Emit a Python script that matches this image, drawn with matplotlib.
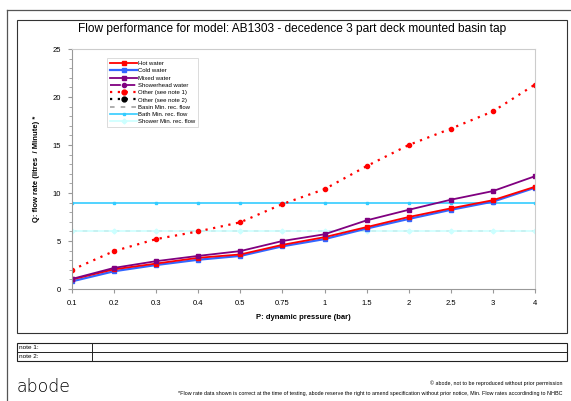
import matplotlib
matplotlib.use("Agg")
import matplotlib.pyplot as plt
from matplotlib.patches import Rectangle
from matplotlib.lines import Line2D
from matplotlib.ticker import MultipleLocator

# data
pressures = ["0.1", "0.2", "0.3", "0.4", "0.5", "0.75", "1", "1.5", "2", "2.5", "3", "4"]
hot_water = [1.0, 2.05, 2.65, 3.25, 3.6, 4.6, 5.4, 6.45, 7.5, 8.4, 9.25, 10.65]
cold_water = [0.8, 1.85, 2.5, 3.05, 3.45, 4.45, 5.2, 6.3, 7.3, 8.25, 9.1, 10.55]
mixed_water = [1.05, 2.2, 2.9, 3.45, 3.95, 5.0, 5.7, 7.15, 8.25, 9.3, 10.2, 11.75]
other_1 = [2.0, 3.95, 5.2, 6.0, 6.95, 8.85, 10.4, 12.8, 15.0, 16.7, 18.5, 21.3]
basin_min = 6.0
bath_min = 9.0
shower_min = 6.0

title = "Flow performance for model: AB1303 - decedence 3 part deck mounted basin tap"

W, H = 571, 401
fig = plt.figure(figsize=(W / 100, H / 100), dpi=100)
plt.rcParams['font.family'] = ['Liberation Sans', 'DejaVu Sans']

def fx(px):
    return px / W

def fy(py):
    return 1 - py / H

# outer frames
fig.add_artist(Line2D([fx(7), fx(7)], [fy(10), 0], color="#555555", lw=0.9, transform=fig.transFigure))
fig.add_artist(Line2D([fx(7), 1], [fy(10), fy(10)], color="#555555", lw=0.9, transform=fig.transFigure))
fig.add_artist(Rectangle((fx(17), fy(333)), fx(567) - fx(17), fy(20) - fy(333),
                         fill=False, ec="#333333", lw=0.8, transform=fig.transFigure))

fig.text(fx(292), fy(29), title, ha="center", va="center", fontsize=8.6)

ax = fig.add_axes([fx(72), fy(289), fx(535) - fx(72), fy(49) - fy(289)])
x = list(range(len(pressures)))

ax.plot(x, [basin_min] * len(x), color="#999999", ls=(0, (3, 4)), lw=1.1, label="Basin Min. rec. flow")
ax.plot(x, [shower_min] * len(x), color="#CCFFFF", lw=1.2, marker="D", ms=2.5, label="Shower Min. rec. flow")
ax.plot(x, [bath_min] * len(x), color="#33CCFF", lw=1.2, marker="s", ms=1.5, label="Bath Min. rec. flow")
ax.plot(x, cold_water, color="#3366FF", lw=1.6, marker="s", ms=2.8, label="Cold water")
ax.plot(x, hot_water, color="#FF0000", lw=1.3, marker="s", ms=2.8, label="Hot water")
ax.plot(x, mixed_water, color="#800080", lw=1.3, marker="s", ms=2.8, label="Mixed water")
ax.plot(x, other_1, color="#FF0000", lw=1.6, ls=(0, (1, 2.5)), marker="o", ms=3, label="Other (see note 1)")

ax.set_xlim(0, len(x) - 1)
ax.set_ylim(0, 25)
ax.set_xticks(x)
ax.set_xticklabels(pressures)
ax.yaxis.set_major_locator(MultipleLocator(5))
ax.yaxis.set_minor_locator(MultipleLocator(1))
ax.tick_params(axis="both", labelsize=5.5, length=3, color="#999999", pad=5)
ax.tick_params(axis="y", which="minor", length=2, color="#999999")
for s in ["left", "bottom"]:
    ax.spines[s].set_color("#999999")
for s in ["top", "right"]:
    ax.spines[s].set_color("#CCCCCC")
ax.set_xlabel("P: dynamic pressure (bar)", fontsize=5.5, fontweight="bold", labelpad=5)
ax.set_ylabel("Q: flow rate (litres  / Minute) *", fontsize=5.5, fontweight="bold", labelpad=9)

handles = [
    Line2D([], [], color="#FF0000", lw=1.3, marker="s", ms=3),
    Line2D([], [], color="#3366FF", lw=1.6, marker="s", ms=3),
    Line2D([], [], color="#800080", lw=1.3, marker="s", ms=3),
    Line2D([], [], color="#800080", lw=1.3, ls=(0, (6, 2)), marker="o", ms=3),
    Line2D([], [], color="#FF0000", lw=1.6, ls=(0, (1, 2.5)), marker="o", ms=3.5),
    Line2D([], [], color="black", lw=1.6, ls=(0, (1, 2.5)), marker="o", ms=3.5),
    Line2D([], [], color="#999999", lw=1.1, ls=(0, (3, 4))),
    Line2D([], [], color="#33CCFF", lw=1.2, marker="s", ms=1.5),
    Line2D([], [], color="#CCFFFF", lw=1.2, marker="D", ms=2.5),
]
labels = ["Hot water", "Cold water", "Mixed water", "Showerhead water", "Other (see note 1)",
          "Other (see note 2)", "Basin Min. rec. flow", "Bath Min. rec. flow", "Shower Min. rec. flow"]
leg = ax.legend(handles, labels, loc="upper left", bbox_to_anchor=(0.07, 0.975), fontsize=4.3,
                frameon=True, fancybox=False, edgecolor="#CCCCCC", handlelength=4.5,
                handletextpad=0.1, labelspacing=0.35, borderpad=0.5)
leg.get_frame().set_linewidth(0.6)

# notes table
fig.add_artist(Rectangle((fx(17), fy(361)), fx(567) - fx(17), fy(343) - fy(361),
                         fill=False, ec="#222222", lw=0.8, transform=fig.transFigure))
fig.add_artist(Line2D([fx(17), fx(567)], [fy(352), fy(352)], color="#222222", lw=0.7, transform=fig.transFigure))
fig.add_artist(Line2D([fx(92), fx(92)], [fy(343), fy(361)], color="#222222", lw=0.7, transform=fig.transFigure))
fig.text(fx(19), fy(347.5), "note 1:", fontsize=4.6, va="center")
fig.text(fx(19), fy(356.5), "note 2:", fontsize=4.6, va="center")

# footer
fig.text(fx(17), fy(387), "abode", fontsize=12.5, fontweight="light", va="center", family="DejaVu Sans")
fig.text(fx(563), fy(383), "\u00a9 abode, not to be reproduced without prior permission",
         fontsize=3.9, ha="right", va="center")
fig.text(fx(563), fy(394), "*Flow rate data shown is correct at the time of testing, abode reserve the right to amend "
         "specification without prior notice, Min. Flow rates accordinding to NHBC",
         fontsize=3.9, ha="right", va="center")

fig.savefig("out.png", dpi=100)
